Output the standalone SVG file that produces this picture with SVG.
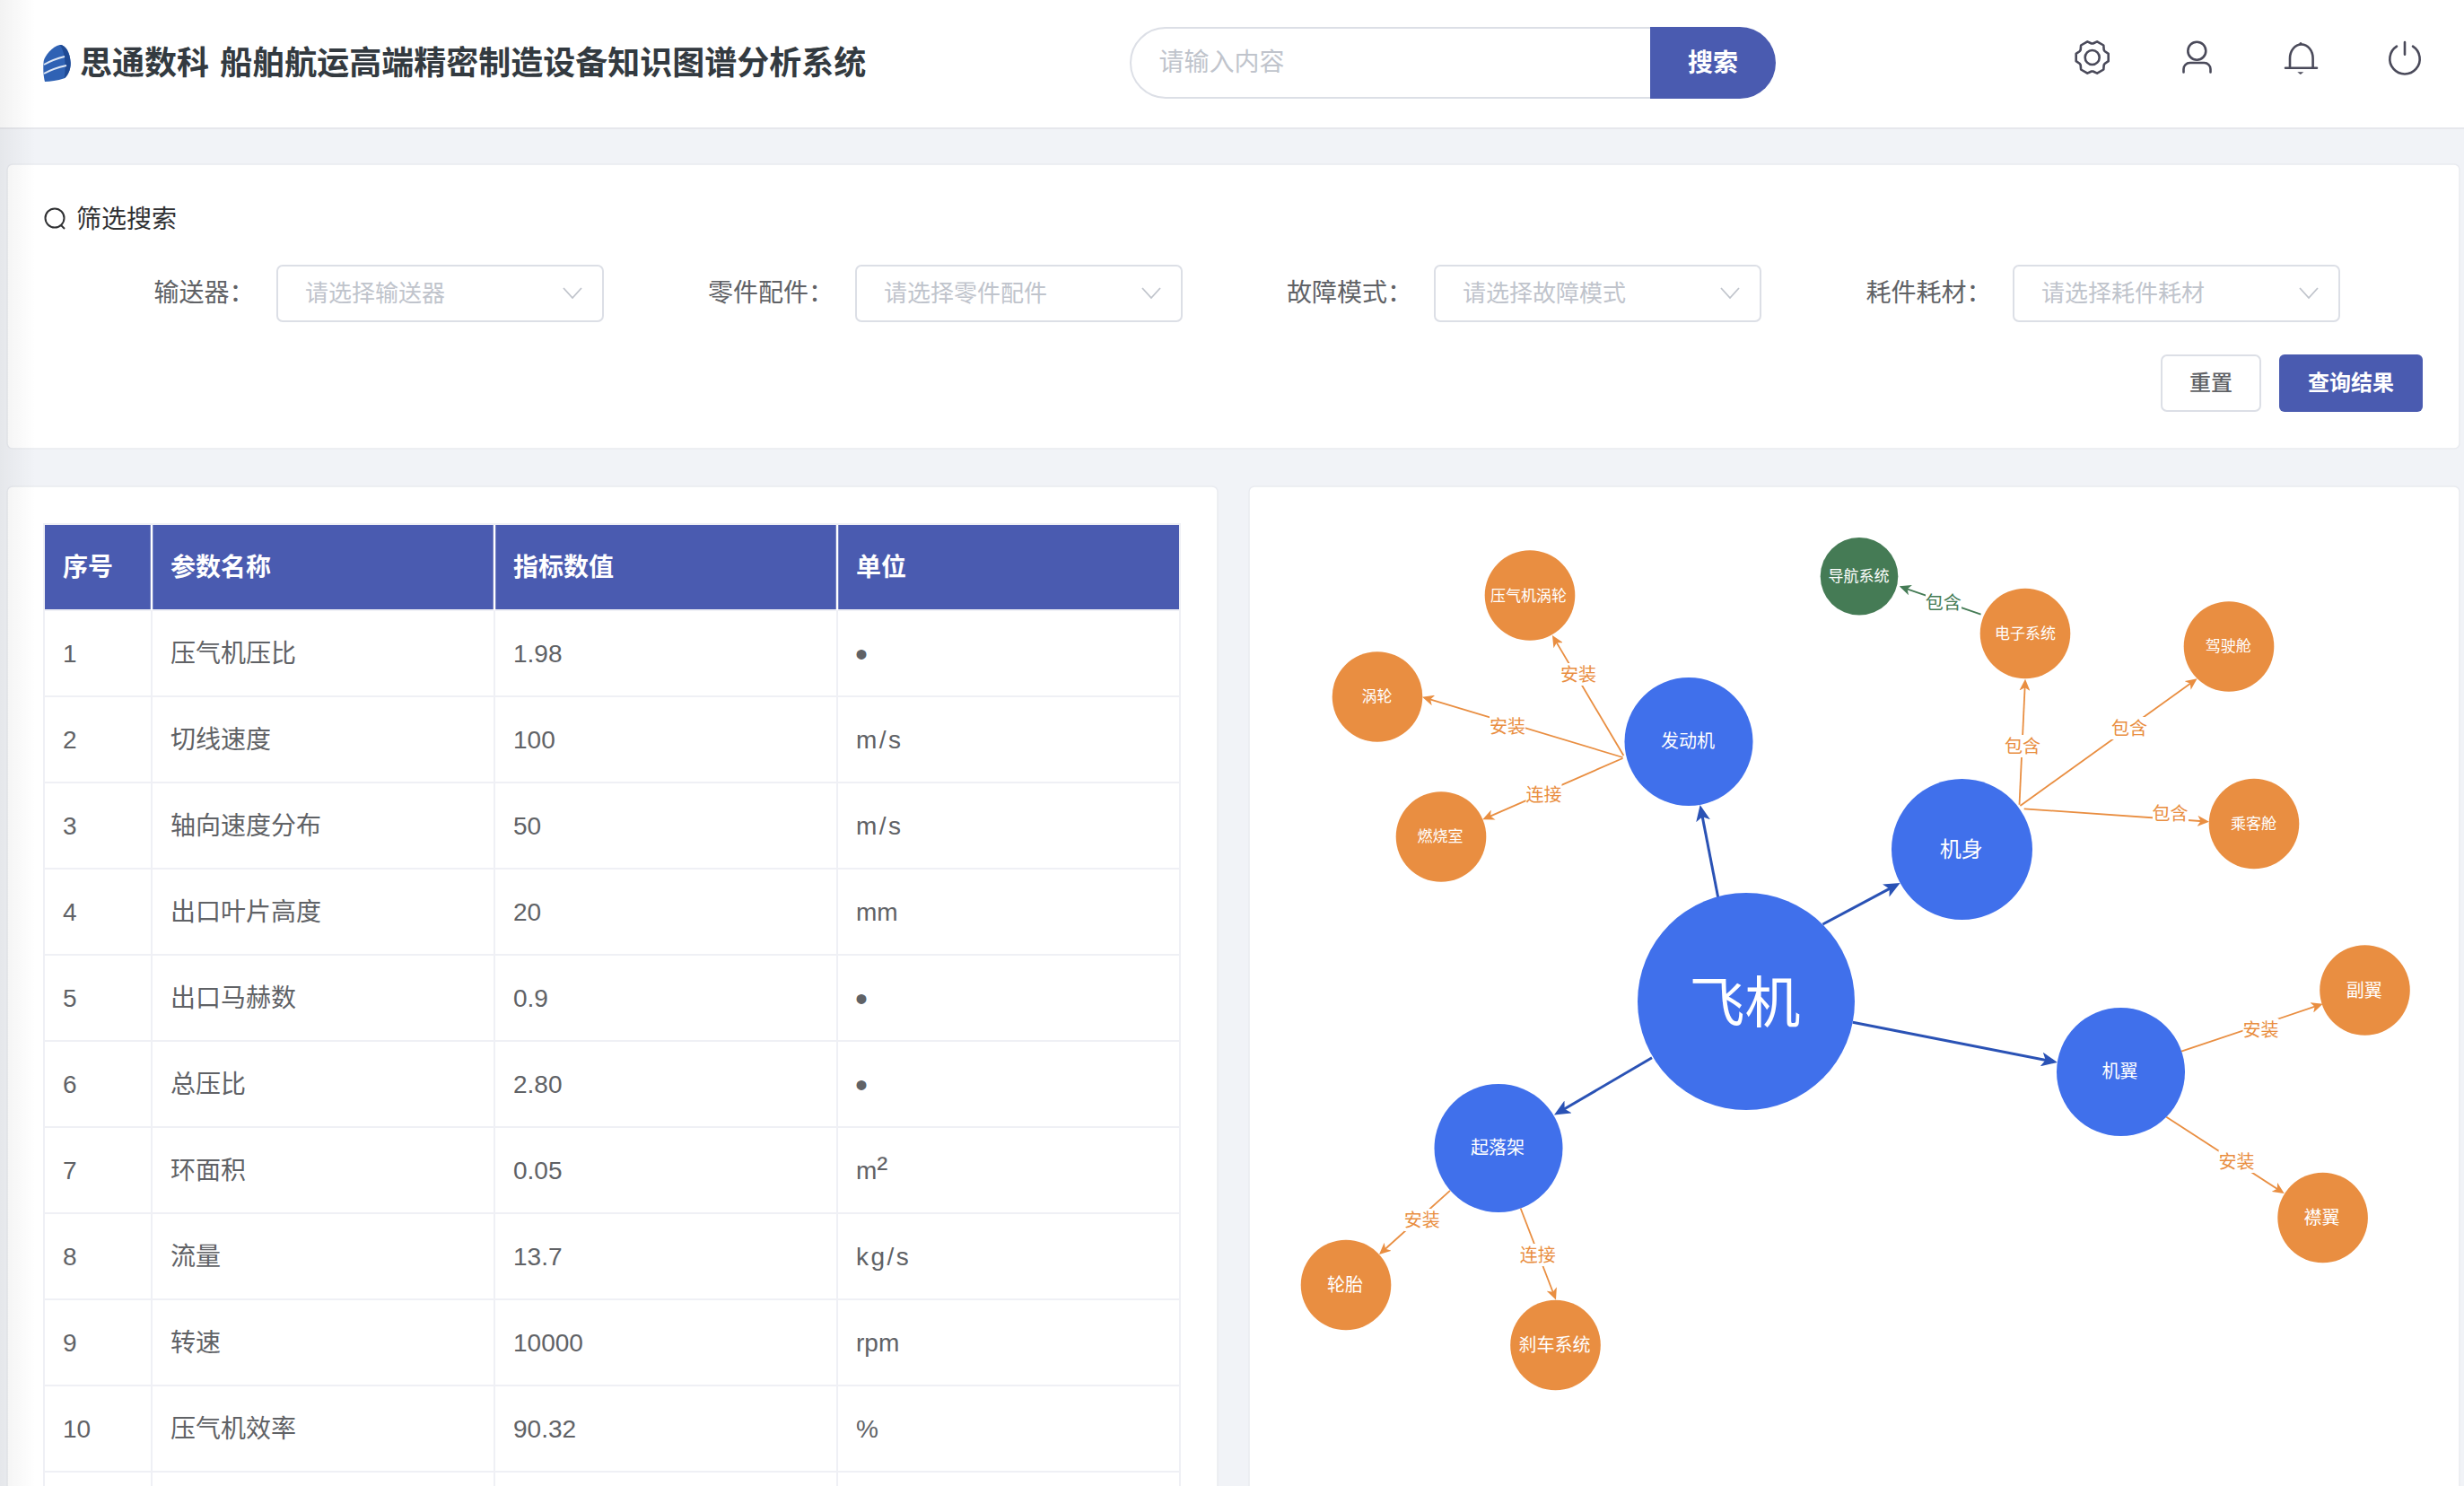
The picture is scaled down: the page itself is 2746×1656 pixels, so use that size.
<svg xmlns="http://www.w3.org/2000/svg" width="2746" height="1656" viewBox="0 0 2746 1656">
<style>
text{font-family:"Liberation Sans","Noto Sans CJK SC",sans-serif}
.cjk{font-family:"Noto Sans CJK SC",sans-serif}
.card{fill:#fff;stroke:#e9ebf0;stroke-width:1.5}
.sel{fill:#fff;stroke:#dcdfe6;stroke-width:2}
.lab{font-size:28px;fill:#606266}
.ph{font-size:26px;fill:#c0c4cc}
.chev{fill:none;stroke:#c0c4cc;stroke-width:1.8}
.th{font-size:28px;font-weight:700;fill:#fff}
.td{font-size:28px;fill:#606266}
.bul{font-size:40px;fill:#606266}
.sp{letter-spacing:2.5px}
.grid{stroke:#eff0f5;stroke-width:2}
.head{stroke:#fff;stroke-width:2.5}
.ic{fill:none;stroke:#4a4a5a;stroke-width:2.6;stroke-linecap:round;stroke-linejoin:round}
.blue{fill:#4070eb}.org{fill:#e98e41}.grn{fill:#457b55}
.nt{fill:#fff;text-anchor:middle}
.s17{font-size:17px}.s20{font-size:20px}
.e-b{stroke:#2a52b5;stroke-width:3;fill:none;marker-end:url(#ab)}
.e-o{stroke:#e98e41;stroke-width:1.8;fill:none;marker-end:url(#ao)}
.e-g{stroke:#457b55;stroke-width:1.8;fill:none;marker-end:url(#ag)}
.el{font-size:20px;text-anchor:middle;fill:#e98e41}
.lb{fill:#fff}
</style>
<defs>
<marker id="ab" markerUnits="userSpaceOnUse" markerWidth="18" markerHeight="16" refX="13" refY="8" orient="auto"><path d="M0,0L18,8L0,16L4.500,8z" fill="#2a52b5"/></marker>
<marker id="ao" markerUnits="userSpaceOnUse" markerWidth="13" markerHeight="12" refX="10" refY="6" orient="auto"><path d="M0,0L13,6L0,12L3.500,6z" fill="#e98e41"/></marker>
<marker id="ag" markerUnits="userSpaceOnUse" markerWidth="13" markerHeight="12" refX="10" refY="6" orient="auto"><path d="M0,0L13,6L0,12L3.500,6z" fill="#457b55"/></marker>
<linearGradient id="sh" x1="0" x2="1" y1="0" y2="0"><stop offset="0" stop-color="#000" stop-opacity=".05"/><stop offset="1" stop-color="#000" stop-opacity="0"/></linearGradient>
</defs>

<rect width="2746" height="1656" fill="#f1f3f7"/>

<g id="header">
<rect width="2746" height="142" fill="#fff"/>
<rect y="142" width="2746" height="2" fill="#e6e7ec"/>
<g id="logo">
<path d="M66.700,50C73,50 78,58 78.700,70C79,78 75,85 71.700,87.300C64,90 56,91 50,91C48,84 48,74 48.700,68C50,62 58,52 66.700,50z" fill="#2f62b4"/>
<path d="M66.700,50C73,50 78,58 78.700,70C79,78 75,85 71.700,87.300C73,78 74,60 66.700,50z" fill="#1f4a94"/>
<path d="M49,72C56,68 64,65 72,63M49,82C56,78 65,75 74,73" fill="none" stroke="#dfe8f5" stroke-width="2"/>
</g>
<text x="89" y="83" class="cjk" font-size="36" font-weight="700" word-spacing="4" fill="#333a40">思通数科 船舶航运高端精密制造设备知识图谱分析系统</text>
<rect x="1260" y="31" width="618" height="78" rx="39" class="sel"/>
<path d="M1839,30H1939a40,40 0 0 1 0,80H1839z" fill="#4a5bb0"/>
<text x="1291.500" y="79" font-size="28" fill="#c0c4cc" class="cjk">请输入内容</text>
<text x="1909" y="80" font-size="28" font-weight="700" fill="#fff" text-anchor="middle" class="cjk">搜索</text>
<g id="icon-gear" class="ic"><circle cx="2331.700" cy="64" r="8"/><path transform="translate(2331.700 64)" d="M13.800,-7.040L18,-4.160V4.160L13.800,7.040L13,8.440L12.600,13.500L5.410,17.700L0.810,15.500H-0.810L-5.410,17.700L-12.600,13.500L-13,8.440L-13.800,7.040L-18,4.160V-4.160L-13.800,-7.040L-13,-8.440L-12.600,-13.500L-5.410,-17.700L-0.810,-15.500H0.810L5.410,-17.700L12.600,-13.500L13,-8.440z"/></g>
<g id="icon-user" class="ic"><circle cx="2448.300" cy="56.700" r="10"/><path d="M2433.500,80.500V77a7,7 0 0 1 7,-7h16a7,7 0 0 1 7,7v3.500"/></g>
<g id="icon-bell" class="ic"><path d="M2552,75.700V65a12.800,15.500 0 0 1 25.600,0V75.700M2547,75.700H2582"/><circle cx="2564" cy="48.500" r="1.500" fill="#4a4a5a" stroke="none"/><path d="M2560.300,80.300H2567.300L2563.800,83z" fill="#4a4a5a" stroke="none"/></g>
<g id="icon-power" class="ic"><path d="M2680,47V60.700M2671,51.700A16.700,16.700 0 1 0 2689,51.700"/></g>
</g>

<g id="filter">
<rect x="8" y="183" width="2733" height="317" rx="6" class="card"/>
<circle cx="61" cy="243" r="10.500" fill="none" stroke="#303133" stroke-width="2"/><path d="M68,251L72,255" stroke="#303133" stroke-width="2"/>
<text x="85" y="254" font-size="28" fill="#303133" class="cjk">筛选搜索</text>
<text x="171.500" y="336" class="lab cjk">输送器：</text>
<rect x="309" y="296" width="363" height="62" rx="6" class="sel"/><text x="340" y="336" class="ph cjk">请选择输送器</text><path d="M628,321L638,332L648,321" class="chev"/>
<text x="789" y="336" class="lab cjk">零件配件：</text>
<rect x="954" y="296" width="363" height="62" rx="6" class="sel"/><text x="985" y="336" class="ph cjk">请选择零件配件</text><path d="M1273,321L1283,332L1293,321" class="chev"/>
<text x="1434" y="336" class="lab cjk">故障模式：</text>
<rect x="1599" y="296" width="363" height="62" rx="6" class="sel"/><text x="1630" y="336" class="ph cjk">请选择故障模式</text><path d="M1918,321L1928,332L1938,321" class="chev"/>
<text x="2079.500" y="336" class="lab cjk">耗件耗材：</text>
<rect x="2244" y="296" width="363" height="62" rx="6" class="sel"/><text x="2275" y="336" class="ph cjk">请选择耗件耗材</text><path d="M2563,321L2573,332L2583,321" class="chev"/>
<rect x="2409" y="396" width="110" height="62" rx="6" class="sel"/>
<text x="2464" y="435" font-size="24" font-weight="500" fill="#606266" text-anchor="middle" class="cjk">重置</text>
<rect x="2540" y="395" width="160" height="64" rx="6" fill="#4a5bb0"/>
<text x="2620" y="435" font-size="24" font-weight="700" fill="#fff" text-anchor="middle" class="cjk">查询结果</text>
</g>

<g id="table-card">
<rect x="8" y="542" width="1349" height="1130" rx="6" class="card"/>
<rect x="49" y="585" width="1266" height="95" fill="#4a5bb0"/>
<path class="grid" d="M48,584H1316M48,680H1316M48,776H1316M48,872H1316M48,968H1316M48,1064H1316M48,1160H1316M48,1256H1316M48,1352H1316M48,1448H1316M48,1544H1316M48,1640H1316M49,584V1656M169,680V1656M551,680V1656M933,680V1656M1315,584V1656"/>
<path class="head" d="M169,585V680M551,585V680M933,585V680"/>
<text x="70" y="642" class="th cjk">序号</text><text x="190" y="642" class="th cjk">参数名称</text><text x="572" y="642" class="th cjk">指标数值</text><text x="954" y="642" class="th cjk">单位</text>
<g class="td">
<text class="td" x="70" y="738">1</text><text class="td" x="190" y="738">压气机压比</text><text class="td" x="572" y="738">1.98</text><text class="bul" x="953" y="743">•</text>
<text class="td" x="70" y="834">2</text><text class="td" x="190" y="834">切线速度</text><text class="td" x="572" y="834">100</text><text class="td sp" x="954" y="834">m/s</text>
<text class="td" x="70" y="930">3</text><text class="td" x="190" y="930">轴向速度分布</text><text class="td" x="572" y="930">50</text><text class="td sp" x="954" y="930">m/s</text>
<text class="td" x="70" y="1026">4</text><text class="td" x="190" y="1026">出口叶片高度</text><text class="td" x="572" y="1026">20</text><text class="td" x="954" y="1026">mm</text>
<text class="td" x="70" y="1122">5</text><text class="td" x="190" y="1122">出口马赫数</text><text class="td" x="572" y="1122">0.9</text><text class="bul" x="953" y="1127">•</text>
<text class="td" x="70" y="1218">6</text><text class="td" x="190" y="1218">总压比</text><text class="td" x="572" y="1218">2.80</text><text class="bul" x="953" y="1223">•</text>
<text class="td" x="70" y="1314">7</text><text class="td" x="190" y="1314">环面积</text><text class="td" x="572" y="1314">0.05</text><text class="td" x="954" y="1314">m<tspan font-size="36">²</tspan></text>
<text class="td" x="70" y="1410">8</text><text class="td" x="190" y="1410">流量</text><text class="td" x="572" y="1410">13.7</text><text class="td sp" x="954" y="1410">kg/s</text>
<text class="td" x="70" y="1506">9</text><text class="td" x="190" y="1506">转速</text><text class="td" x="572" y="1506">10000</text><text class="td" x="954" y="1506">rpm</text>
<text class="td" x="70" y="1602">10</text><text class="td" x="190" y="1602">压气机效率</text><text class="td" x="572" y="1602">90.32</text><text class="td" x="954" y="1602">%</text>
</g>
</g>

<rect id="graph-card" x="1392" y="542" width="1349" height="1130" rx="6" class="card"/>

<g id="connectors">
<line class="e-b" x1="1914.700" y1="1000" x2="1895.600" y2="901.900"/>
<line class="e-b" x1="2031.400" y1="1030" x2="2113.200" y2="986.400"/>
<line class="e-b" x1="2064.800" y1="1139.300" x2="2288" y2="1183"/>
<line class="e-b" x1="1841" y1="1178.800" x2="1736.300" y2="1240"/>
<line class="e-o" x1="1809.400" y1="842" x2="1731.500" y2="710.600"/>
<line class="e-o" x1="1808.500" y1="844" x2="1587.900" y2="777.600"/>
<line class="e-o" x1="1808.500" y1="845" x2="1655" y2="912.100"/>
<line class="e-g" x1="2207.600" y1="684.700" x2="2119.500" y2="654.300"/>
<line class="e-o" x1="2250.500" y1="896.700" x2="2256.900" y2="759.700"/>
<line class="e-o" x1="2251.400" y1="898" x2="2446.200" y2="758"/>
<line class="e-o" x1="2255.700" y1="901.300" x2="2459" y2="915.500"/>
<line class="e-o" x1="1616" y1="1326.800" x2="1539.200" y2="1396"/>
<line class="e-o" x1="1694.600" y1="1346.500" x2="1732.900" y2="1445.800"/>
<line class="e-o" x1="2431" y1="1171.700" x2="2585.800" y2="1119.700"/>
<line class="e-o" x1="2414.300" y1="1244.700" x2="2543.200" y2="1328.400"/>
<rect class="lb" x="1739" y="739" width="40" height="25"/><text class="el cjk" x="1759" y="759">安装</text>
<rect class="lb" x="1660" y="797" width="40" height="25"/><text class="el cjk" x="1680" y="817">安装</text>
<rect class="lb" x="1700.500" y="873" width="40" height="25"/><text class="el cjk" x="1720.500" y="892.500">连接</text>
<rect class="lb" x="2146" y="659" width="40" height="25"/><text class="el cjk" x="2165.700" y="678.500" style="fill:#457b55">包含</text>
<rect class="lb" x="2234" y="819" width="40" height="25"/><text class="el cjk" x="2254" y="838.500">包含</text>
<rect class="lb" x="2353" y="799" width="40" height="25"/><text class="el cjk" x="2373" y="819">包含</text>
<rect class="lb" x="2399" y="894" width="40" height="25"/><text class="el cjk" x="2418.600" y="913.500">包含</text>
<rect class="lb" x="1565" y="1347" width="40" height="25"/><text class="el cjk" x="1584.800" y="1367">安装</text>
<rect class="lb" x="1694" y="1386" width="40" height="25"/><text class="el cjk" x="1713.800" y="1406">连接</text>
<rect class="lb" x="2499.500" y="1135" width="40" height="25"/><text class="el cjk" x="2519.500" y="1154.500">安装</text>
<rect class="lb" x="2472.500" y="1282" width="40" height="25"/><text class="el cjk" x="2492.400" y="1302">安装</text>
</g>

<g id="n-feiji"><circle class="blue" cx="1946" cy="1116" r="121"/><text class="nt cjk" x="1944.500" y="1139.500" font-size="62">飞机</text></g>
<g id="n-fadongji"><circle class="blue" cx="1882" cy="826.500" r="71.500"/><text class="nt cjk s20" x="1881" y="833.300">发动机</text></g>
<g id="n-jishen"><circle class="blue" cx="2186.500" cy="946.500" r="78.500"/><text class="nt cjk" x="2185.700" y="954.800" font-size="24">机身</text></g>
<g id="n-jiyi"><circle class="blue" cx="2363.500" cy="1194.500" r="71.500"/><text class="nt cjk s20" x="2362.400" y="1201.300">机翼</text></g>
<g id="n-qiluojia"><circle class="blue" cx="1670" cy="1279.500" r="71.500"/><text class="nt cjk s20" x="1669" y="1286.400">起落架</text></g>
<g id="n-yaqiji"><circle class="org" cx="1705" cy="663.500" r="50.300"/><text class="nt cjk s17" x="1703.600" y="669.500">压气机涡轮</text></g>
<g id="n-wolun"><circle class="org" cx="1535" cy="776.500" r="50.300"/><text class="nt cjk s17" x="1534.400" y="782">涡轮</text></g>
<g id="n-ranshao"><circle class="org" cx="1606" cy="932.500" r="50.300"/><text class="nt cjk s17" x="1605" y="937.800">燃烧室</text></g>
<g id="n-daohang"><circle class="grn" cx="2072" cy="642.300" r="43.300"/><text class="nt cjk s17" x="2071.400" y="648">导航系统</text></g>
<g id="n-dianzi"><circle class="org" cx="2257" cy="706" r="50.300"/><text class="nt cjk s17" x="2257" y="711.800">电子系统</text></g>
<g id="n-jiashi"><circle class="org" cx="2484" cy="720.500" r="50.300"/><text class="nt cjk s17" x="2483.300" y="725.500">驾驶舱</text></g>
<g id="n-chengke"><circle class="org" cx="2512" cy="918" r="50.300"/><text class="nt cjk s17" x="2511.400" y="923.800">乘客舱</text></g>
<g id="n-fuyi"><circle class="org" cx="2635.500" cy="1103.500" r="50.300"/><text class="nt cjk s20" x="2634.800" y="1110.600">副翼</text></g>
<g id="n-jinyi"><circle class="org" cx="2588.600" cy="1357" r="50.300"/><text class="nt cjk s20" x="2587.600" y="1364">襟翼</text></g>
<g id="n-luntai"><circle class="org" cx="1500" cy="1432" r="50.300"/><text class="nt cjk s20" x="1499" y="1439.400">轮胎</text></g>
<g id="n-shache"><circle class="org" cx="1733.500" cy="1499" r="50.300"/><text class="nt cjk s20" x="1732.600" y="1506">刹车系统</text></g>

<rect width="40" height="1656" fill="url(#sh)"/>
</svg>
